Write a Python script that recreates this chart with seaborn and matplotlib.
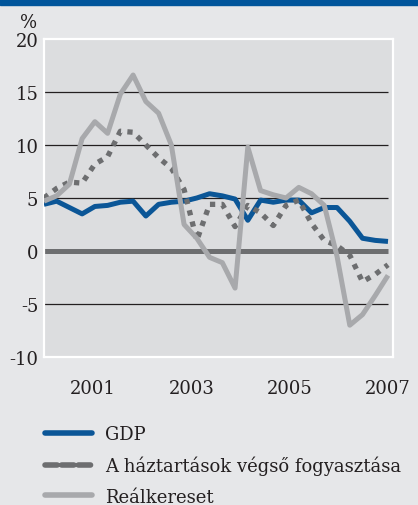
import numpy as np
import pandas as pd
import seaborn as sns
import matplotlib.pyplot as plt
from matplotlib.lines import Line2D
from matplotlib.patches import Rectangle

# quarterly data, 2000 Q1 - 2006 Q4 (annual % change)
quarters = [f"{y} Q{q}" for y in range(2000, 2007) for q in range(1, 5)]

gdp = [4.4, 4.7, 4.1, 3.5, 4.2, 4.3, 4.6, 4.7, 3.3, 4.4, 4.6, 4.7, 5.0, 5.4,
       5.2, 4.9, 2.9, 4.8, 4.6, 4.8, 4.8, 3.6, 4.1, 4.1, 2.8, 1.2, 1.0, 0.9]
consumption = [5.0, 5.9, 6.5, 6.4, 8.2, 8.9, 11.3, 11.2, 10.0, 8.8, 7.8, 5.8,
               1.0, 4.4, 4.4, 2.3, 4.3, 3.6, 2.4, 4.3, 4.8, 2.6, 1.0, 0.5,
               -0.4, -2.9, -2.2, -1.3]
real_wage = [4.7, 5.2, 6.3, 10.6, 12.2, 11.1, 14.8, 16.6, 14.1, 13.0, 10.0, 2.5,
             1.2, -0.6, -1.1, -3.5, 9.8, 5.7, 5.3, 5.0, 6.0, 5.4, 4.3, -0.5,
             -7.0, -6.0, -4.2, -2.3]

labels = ["GDP", "A háztartások végső fogyasztása", "Reálkereset"]
year_ticks = list(range(2001, 2008))
year_labels = [str(y) if y % 2 else "" for y in year_ticks]
y_ticks = [-10, -5, 0, 5, 10, 15, 20]

BLUE = "#0b5697"
DARK = "#6d6e70"
LIGHT = "#a8a9ac"
OUTER_BG = "#e6e7e9"
PLOT_BG = "#dcdddf"

sns.set_theme(style="white")
plt.rcParams["font.family"] = ["DejaVu Serif"]
plt.rcParams["axes.unicode_minus"] = False

df = pd.DataFrame({
    "x": np.linspace(2000, 2007, len(quarters)),
    "gdp": gdp,
    "cons": consumption,
    "wage": real_wage,
})

fig = plt.figure(figsize=(4.18, 5.06), dpi=100, facecolor=OUTER_BG)
ax = fig.add_axes([0.105, 0.2925, 0.835, 0.6285])
ax.set_facecolor(PLOT_BG)

# horizontal grid + zero line
ax.hlines([-5, 5, 10, 15], 2000, 2007, color="#231f20", lw=0.9, zorder=1)
ax.hlines(0, 2000, 2007, color=DARK, lw=3.6, zorder=2)

sns.lineplot(data=df, x="x", y="gdp", ax=ax, color=BLUE, lw=3.6, zorder=3)
sns.lineplot(data=df, x="x", y="cons", ax=ax, color=DARK, lw=3.8, zorder=4,
             dashes=False, linestyle=(0, (1, 1.2)))
sns.lineplot(data=df, x="x", y="wage", ax=ax, color=LIGHT, lw=3.6, zorder=5)
for ln in ax.lines:
    ln.set_solid_capstyle("butt")
    ln.set_dash_capstyle("butt")

ax.set_xlim(2000, 2007.1)
ax.set_ylim(-10, 20)
ax.set_yticks(y_ticks)
ax.set_xticks(year_ticks)
ax.set_xticklabels(year_labels)
ax.set_xlabel("")
ax.set_ylabel("")
ax.tick_params(axis="y", length=0, pad=4, labelsize=13, colors="#231f20")
ax.tick_params(axis="x", direction="out", length=3, width=1, color="#3a3a3a",
               pad=13, labelsize=13, labelcolor="#231f20")
for sp in ax.spines.values():
    sp.set_color("white")
    sp.set_linewidth(1.6)

fig.text(0.068, 0.955, "%", ha="center", va="center", fontsize=13, color="#231f20")
fig.patches.append(Rectangle((0, 0.988), 1, 0.012, transform=fig.transFigure,
                             color="#00559b", zorder=0))

handles = [
    Line2D([], [], color=BLUE, lw=4, solid_capstyle="round"),
    Line2D([], [], color=DARK, lw=4, linestyle=(0, (2.2, 0.8)), dash_capstyle="round"),
    Line2D([], [], color=LIGHT, lw=4, solid_capstyle="round"),
]
fig.legend(handles, labels, loc="upper left", bbox_to_anchor=(0.085, 0.175),
           frameon=False, fontsize=13, handlelength=2.6, handletextpad=0.75,
           labelspacing=0.68, borderpad=0, labelcolor="#231f20")

fig.savefig("out.png", dpi=100, facecolor=OUTER_BG)
